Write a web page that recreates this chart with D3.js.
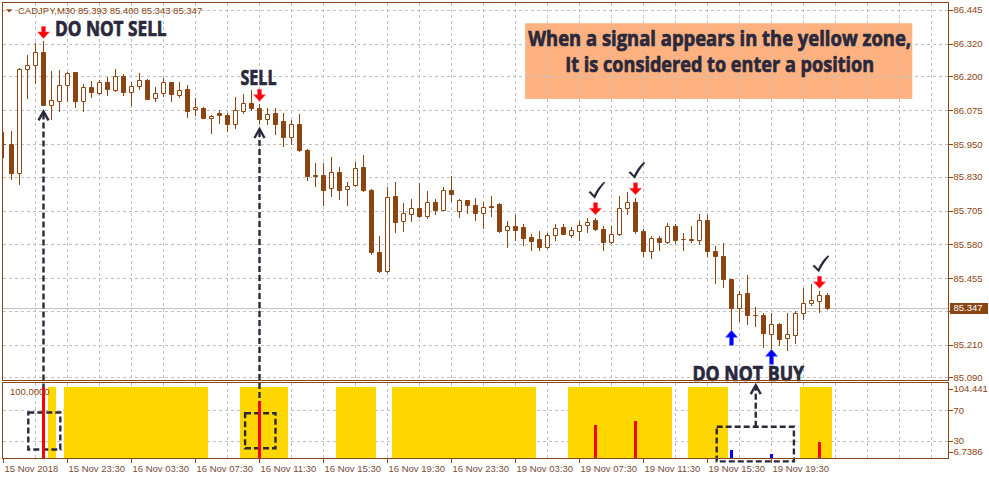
<!DOCTYPE html>
<html>
<head>
<meta charset="utf-8">
<script src="https://cdn.jsdelivr.net/npm/d3@7"></script>
<style>
  html, body { margin: 0; padding: 0; background: #fff; }
  svg { display: block; }
  text { font-family: "Liberation Sans", Arial, sans-serif; }
  .note { font-family: "Open Sans", "DejaVu Sans", sans-serif; font-weight: 700; fill: #29283d;
          stroke: #29283d; stroke-width: 0.7px; }
</style>
</head>
<body>
<div id="chart"></div>
<script>
// CADJPY M30, one value per bar (index 0 = first bar on the left)
const opens = [85.952,85.949,85.844,86.227,86.242,86.290,86.093,86.108,86.167,86.216,
  86.108,86.162,86.139,86.181,86.151,86.200,86.141,86.165,86.186,86.120,
  86.139,86.179,86.132,86.153,86.080,86.085,86.047,86.064,86.059,86.024,
  86.072,86.103,86.085,86.043,86.064,86.036,85.975,86.025,85.930,85.838,
  85.838,85.787,85.848,85.785,85.798,85.866,85.782,85.554,85.482,85.760,
  85.666,85.693,85.715,85.684,85.737,85.709,85.781,85.702,85.744,85.724,
  85.697,85.722,85.731,85.634,85.650,85.643,85.609,85.602,85.570,85.616,
  85.645,85.614,85.630,85.653,85.672,85.638,85.590,85.620,85.715,85.737,
  85.628,85.555,85.605,85.589,85.650,85.601,85.602,85.596,85.671,85.557,
  85.539,85.451,85.347,85.402,85.318,85.318,85.251,85.285,85.234,85.247,
  85.329,85.365,85.371,85.393];
const highs = [85.996,86.000,86.232,86.280,86.323,86.329,86.220,86.224,86.218,86.218,
  86.172,86.183,86.187,86.198,86.227,86.210,86.179,86.212,86.192,86.160,
  86.194,86.181,86.179,86.167,86.120,86.088,86.059,86.077,86.065,86.124,
  86.136,86.151,86.097,86.084,86.084,86.065,86.040,86.062,85.932,85.881,
  85.881,85.903,85.865,85.811,85.886,85.911,85.786,85.610,85.792,85.811,
  85.734,85.746,85.807,85.776,85.749,85.791,85.834,85.746,85.745,85.752,
  85.737,85.757,85.732,85.665,85.687,85.654,85.617,85.628,85.624,85.657,
  85.654,85.645,85.666,85.676,85.679,85.647,85.650,85.760,85.772,85.752,
  85.638,85.610,85.610,85.660,85.657,85.623,85.650,85.694,85.687,85.574,
  85.586,85.454,85.408,85.469,85.349,85.326,85.326,85.292,85.326,85.334,
  85.418,85.433,85.407,85.400];
const lows = [85.901,85.822,85.803,86.120,86.175,86.093,86.044,86.071,86.108,86.087,
  86.074,86.123,86.136,86.130,86.148,86.130,86.096,86.155,86.115,86.108,
  86.126,86.111,86.123,86.050,86.059,86.046,85.991,86.028,85.997,86.010,
  86.064,86.076,86.028,86.024,85.987,85.942,85.949,85.925,85.817,85.797,
  85.727,85.758,85.749,85.727,85.795,85.778,85.545,85.478,85.479,85.625,
  85.629,85.668,85.682,85.676,85.693,85.706,85.742,85.680,85.697,85.672,
  85.639,85.684,85.625,85.570,85.598,85.577,85.559,85.561,85.568,85.598,
  85.617,85.608,85.595,85.627,85.635,85.561,85.587,85.614,85.691,85.623,
  85.539,85.531,85.561,85.586,85.584,85.559,85.589,85.580,85.537,85.439,
  85.423,85.267,85.297,85.288,85.279,85.203,85.197,85.209,85.191,85.218,
  85.304,85.356,85.331,85.343];
const closes = [85.950,85.844,86.228,86.243,86.290,86.093,86.113,86.167,86.212,86.111,
  86.162,86.141,86.181,86.155,86.203,86.141,86.165,86.186,86.118,86.139,
  86.179,86.136,86.150,86.074,86.087,86.047,86.054,86.058,86.024,86.076,
  86.103,86.082,86.043,86.061,86.026,85.975,86.025,85.927,85.834,85.832,
  85.782,85.848,85.782,85.796,85.862,85.780,85.551,85.482,85.756,85.662,
  85.697,85.715,85.684,85.737,85.709,85.781,85.765,85.744,85.725,85.695,
  85.719,85.720,85.629,85.650,85.635,85.603,85.592,85.570,85.616,85.642,
  85.620,85.634,85.651,85.664,85.638,85.589,85.620,85.715,85.737,85.629,
  85.555,85.605,85.589,85.650,85.598,85.600,85.596,85.671,85.555,85.537,
  85.454,85.347,85.398,85.320,85.318,85.255,85.285,85.233,85.249,85.329,
  85.365,85.374,85.395,85.347];

const priceTicks = [86.445, 86.320, 86.200, 86.075, 85.950, 85.830, 85.705, 85.580, 85.455, 85.335, 85.210, 85.090];
const dateIdx = [0, 8, 16, 24, 32, 40, 48, 56, 64, 72, 80, 88, 96];
const dateLabels = ["15 Nov 2018", "15 Nov 23:30", "16 Nov 03:30", "16 Nov 07:30", "16 Nov 11:30",
  "16 Nov 15:30", "16 Nov 19:30", "16 Nov 23:30", "19 Nov 03:30", "19 Nov 07:30",
  "19 Nov 11:30", "19 Nov 15:30", "19 Nov 19:30"];

// indicator window
const subTicks = [104.441, 70, 30, 6.7386];
const subGrid = [70, 30];
const zoneStart = [6, 8, 30, 42, 49, 71, 86, 100];
const zoneEnd   = [6, 25, 35, 46, 66, 83, 90, 103];
const zoneLevel = 100;
const sellIdx = [5, 32, 74, 79, 102];
const sellVal = [100, 82, 51, 56, 29];
const buyIdx = [91, 96];
const buyVal = [18, 13];
const checkIdx = [74, 79, 102];

const W = 989, H = 479;
const BROWN = "#8B4513", GRID = "#c0c0c0", INK = "#29283d";
const L = 2.5, R = 948.5, T = 2.5, MB = 380.5, ST = 382.5, SB = 458.5;

const x = d3.scaleLinear().domain([0, 118]).range([3.5, 947.5]);
const y = d3.scaleLinear().domain([85.090, 86.445]).range([377.3, 10]);
const ys = d3.scaleLinear().domain([6.7386, 104.441]).range([458.9, 383.6]);
const crisp = v => Math.round(v) + 0.5;
const fmt3 = d3.format(".3f");

const svg = d3.select("#chart").append("svg").attr("width", W).attr("height", H);
svg.append("rect").attr("width", W).attr("height", H).attr("fill", "#fff");

const defs = svg.append("defs");
defs.append("clipPath").attr("id", "clipMain").append("rect")
  .attr("x", L).attr("y", T).attr("width", R - L).attr("height", MB - T);
defs.append("clipPath").attr("id", "clipSub").append("rect")
  .attr("x", L).attr("y", ST).attr("width", R - L).attr("height", SB - ST);

// ---------- main window ----------
const main = svg.append("g").attr("clip-path", "url(#clipMain)");

// info box (drawn under the grid)
main.append("rect")
  .attr("x", x(65.2)).attr("y", y(86.396))
  .attr("width", x(113.6) - x(65.2)).attr("height", y(86.117) - y(86.396))
  .attr("fill", "#ffb27f");

const gridIdx = d3.range(4, 118, 4);
main.selectAll("line.hg").data(priceTicks).join("line")
  .attr("x1", L).attr("x2", R).attr("y1", d => crisp(y(d))).attr("y2", d => crisp(y(d)))
  .attr("stroke", GRID).attr("stroke-dasharray", "3,3").attr("shape-rendering", "crispEdges");
main.selectAll("line.vg").data(gridIdx).join("line")
  .attr("x1", d => x(d)).attr("x2", d => x(d)).attr("y1", T).attr("y2", MB)
  .attr("stroke", GRID).attr("stroke-dasharray", "3,3").attr("shape-rendering", "crispEdges");

// bid line
const last = closes.length - 1;
main.append("line")
  .attr("x1", L).attr("x2", R).attr("y1", crisp(y(closes[last]))).attr("y2", crisp(y(closes[last])))
  .attr("stroke", GRID).attr("shape-rendering", "crispEdges");

// candles
const bars = opens.map((o, i) => ({ i, o, h: highs[i], l: lows[i], c: closes[i] }));
const cg = main.append("g");
cg.selectAll("line.wick").data(bars).join("line")
  .attr("x1", d => x(d.i)).attr("x2", d => x(d.i))
  .attr("y1", d => Math.round(y(d.h))).attr("y2", d => Math.round(y(d.l)) + 1)
  .attr("stroke", BROWN);
cg.selectAll("path.body").data(bars).join("path")
  .attr("d", d => {
    const top = Math.round(y(Math.max(d.o, d.c))) + 0.5;
    const bot = Math.round(y(Math.min(d.o, d.c))) + 0.5;
    return `M${x(d.i) - 2},${top}h4V${bot}h-4Z`;
  })
  .attr("fill", d => d.c >= d.o ? "#fff" : BROWN)
  .attr("stroke", BROWN);

// ---------- indicator window ----------
const sub = svg.append("g").attr("clip-path", "url(#clipSub)");
sub.selectAll("line.hg").data(subGrid).join("line")
  .attr("x1", L).attr("x2", R).attr("y1", d => crisp(ys(d))).attr("y2", d => crisp(ys(d)))
  .attr("stroke", GRID).attr("stroke-dasharray", "3,3").attr("shape-rendering", "crispEdges");
sub.selectAll("line.vg").data(gridIdx).join("line")
  .attr("x1", d => x(d)).attr("x2", d => x(d)).attr("y1", ST).attr("y2", SB)
  .attr("stroke", GRID).attr("stroke-dasharray", "3,3").attr("shape-rendering", "crispEdges");

sub.selectAll("rect.zone").data(zoneStart).join("rect")
  .attr("x", d => x(d) - 4)
  .attr("width", (d, j) => x(zoneEnd[j]) - x(d) + 8)
  .attr("y", ys(zoneLevel)).attr("height", SB - ys(zoneLevel) + 2)
  .attr("fill", "#ffd700").attr("shape-rendering", "crispEdges");

// dashed annotations (under the signal bars)
const ann = svg.append("g").attr("fill", "none").attr("stroke", INK).attr("stroke-width", 2.4);
const dash = "6,3";
const boxes = [[3.1, 7.1, 67, 19], [30.2, 34.0, 66, 20.5], [89.15, 98.8, 48.5, 3.5]];
boxes.forEach(b => {
  ann.append("rect").attr("x", x(b[0])).attr("y", ys(b[2]))
    .attr("width", x(b[1]) - x(b[0])).attr("height", ys(b[3]) - ys(b[2]))
    .attr("stroke-dasharray", dash);
});
const head = (cx, tip) => `M${cx - 5},${tip + 9}L${cx},${tip}L${cx + 5},${tip + 9}`;
// connectors from the sell candles down to the boxes
[[5, 0], [32, 1]].forEach(([i, b]) => {
  const tip = y(lows[i]) + 6;
  ann.append("line").attr("x1", x(i)).attr("x2", x(i)).attr("y1", tip + 2).attr("y2", ys(boxes[b][2]))
    .attr("stroke-dasharray", dash);
  ann.append("path").attr("d", head(x(i), tip));
});
// connector from box 3 up to "DO NOT BUY"
{
  const cx = x(94.03), tip = ys(102.5);
  ann.append("line").attr("x1", cx).attr("x2", cx).attr("y1", ys(boxes[2][2])).attr("y2", tip + 2)
    .attr("stroke-dasharray", dash);
  ann.append("path").attr("d", head(cx, tip));
}

const sig = svg.append("g").attr("clip-path", "url(#clipSub)");
sig.selectAll("rect.sell").data(sellIdx).join("rect")
  .attr("x", d => x(d) - 1.5).attr("width", 3)
  .attr("y", (d, j) => ys(sellVal[j])).attr("height", (d, j) => SB - ys(sellVal[j]) + 2)
  .attr("fill", "#ff0000").attr("shape-rendering", "crispEdges");
sig.selectAll("rect.buy").data(buyIdx).join("rect")
  .attr("x", d => x(d) - 1.5).attr("width", 3)
  .attr("y", (d, j) => ys(buyVal[j])).attr("height", (d, j) => SB - ys(buyVal[j]) + 2)
  .attr("fill", "#0000ff").attr("shape-rendering", "crispEdges");

// ---------- arrows, checks, texts ----------
const marks = svg.append("g");
const sellTip = i => y(highs[i]) - 3;
marks.selectAll("path.down").data(sellIdx).join("path")
  .attr("transform", d => `translate(${x(d)},${sellTip(d)})`)
  .attr("d", "M-2,-12H2V-6.5H6L0,0L-6,-6.5H-2Z")
  .attr("fill", "#ff0000").attr("stroke", "#ff5577").attr("stroke-width", 0.6);
marks.selectAll("path.up").data(buyIdx).join("path")
  .attr("transform", d => `translate(${x(d)},${y(lows[d]) + 1})`)
  .attr("d", "M-2,15H2V7H6L0,0L-6,7H-2Z")
  .attr("fill", "#0000ff").attr("stroke", "#4d6bff").attr("stroke-width", 0.6);
marks.selectAll("path.check").data(checkIdx).join("path")
  .attr("transform", d => `translate(${x(d) - 7},${sellTip(d) - 12 - 4 - 17})`)
  .attr("d", "M0,10.6L1.9,9.4L5.6,13.4Q9.5,5 15.6,0L16.6,1.1Q10.8,7.5 6.4,17Z")
  .attr("fill", INK);

// condensed bold notes: natural text squeezed horizontally to the measured width
function note(str, px, py, width, anchor) {
  const t = marks.append("text").attr("class", "note").attr("font-size", 21)
    .attr("text-anchor", anchor).text(str);
  const k = width / t.node().getComputedTextLength();
  t.attr("transform", `translate(${px},${py}) scale(${k},1)`);
  return t;
}
note("DO NOT SELL", x(5) + 11.5, sellTip(5) - 2, 111.7, "start");
note("SELL", x(32) - 1, sellTip(32) - 12 - 4.5, 36, "middle");
note("DO NOT BUY", x(93.1), y(85.075), 111.7, "middle");
const boxMid = (x(65.2) + x(113.6)) / 2 + 1;
note("When a signal appears in the yellow zone,", boxMid, y(86.396) + 22.8, 383, "middle");
note("It is considered to enter a position", boxMid, y(86.396) + 48.6, 309, "middle");

// ---------- frames and axes ----------
const fr = svg.append("g").attr("fill", "none").attr("stroke", BROWN).attr("shape-rendering", "crispEdges");
fr.append("rect").attr("x", L).attr("y", T).attr("width", R - L).attr("height", MB - T);
fr.append("rect").attr("x", L).attr("y", ST).attr("width", R - L).attr("height", SB - ST);

const axisText = svg.append("g").attr("font-size", 9.5).attr("fill", BROWN);

// price axis (the tick hidden behind the current price label is left out of the text)
fr.selectAll("line.pt").data(priceTicks).join("line")
  .attr("x1", R).attr("x2", R + 4).attr("y1", d => crisp(y(d))).attr("y2", d => crisp(y(d)));
const lastY = y(closes[last]);
axisText.selectAll("text.pt").data(priceTicks.filter(p => Math.abs(y(p) - lastY) > 8)).join("text")
  .attr("x", R + 5).attr("y", d => y(d) + 3.4).text(d => fmt3(d));

// indicator axis
const subLabelY = v => Math.max(389, Math.min(452, ys(v)));
fr.selectAll("line.st").data(subTicks).join("line")
  .attr("x1", R).attr("x2", R + 4).attr("y1", d => crisp(subLabelY(d))).attr("y2", d => crisp(subLabelY(d)));
axisText.selectAll("text.st").data(subTicks).join("text")
  .attr("x", R + 5).attr("y", d => subLabelY(d) + 3.4).text(d => String(d));
axisText.append("text").attr("x", 10).attr("y", 395).text(d3.format(".4f")(zoneLevel));

// time axis
fr.selectAll("line.tt").data(dateIdx).join("line")
  .attr("x1", d => x(d)).attr("x2", d => x(d)).attr("y1", SB).attr("y2", SB + 4);
axisText.selectAll("text.tt").data(dateIdx).join("text")
  .attr("x", d => x(d) + 1).attr("y", 471.5).attr("fill", "#7a4e3c")
  .text((d, j) => dateLabels[j]);

// title
svg.append("path").attr("d", "M6,9.3H12.3L9.15,12.4Z").attr("fill", BROWN);
axisText.append("text").attr("x", 18).attr("y", 14)
  .text("CADJPY,M30  " + [opens[last], highs[last], lows[last], closes[last]].map(fmt3).join(" "));

// current price label
svg.append("rect").attr("x", 950).attr("y", Math.round(lastY) - 5).attr("width", 38).attr("height", 11)
  .attr("fill", BROWN);
svg.append("text").attr("x", R + 5).attr("y", lastY + 3.6).attr("font-size", 9.5).attr("fill", "#fff")
  .text(fmt3(closes[last]));
</script>
</body>
</html>
